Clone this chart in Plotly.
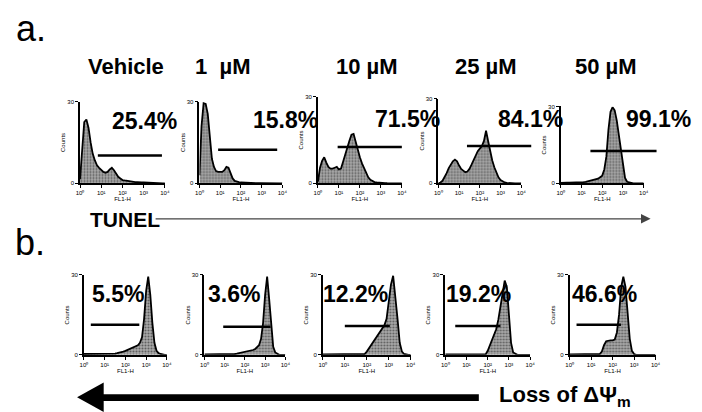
import plotly.graph_objects as go

W, H = 702, 412

# ---------------- data ----------------
DECADES = [0.0, 0.1, 0.2, 0.3, 0.4, 0.5, 0.6, 0.7, 0.8, 0.9,
           1.0, 1.1, 1.2, 1.3, 1.4, 1.5, 1.6, 1.7, 1.8, 1.9,
           2.0, 2.1, 2.2, 2.3, 2.4, 2.5, 2.6, 2.7, 2.8, 2.9,
           3.0, 3.1, 3.2, 3.3, 3.4, 3.5, 3.6, 3.7, 3.8, 3.9,
           4.0]
XTICK_VALS = [0, 1, 2, 3, 4]
XTICK_TEXT = ["10⁰", "10¹", "10²", "10³", "10⁴"]

CONDITIONS = ["Vehicle", "1  µM", "10 µM", "25 µM", "50 µM"]
PCT_TUNEL = ["25.4%", "15.8%", "71.5%", "84.1%", "99.1%"]
PCT_MMP = ["5.5%", "3.6%", "12.2%", "19.2%", "46.6%"]

# relative event counts (fraction of axis height) on the decade grid
TUNEL_VEHICLE = [0.05, 0.45, 0.75, 0.78, 0.68, 0.5, 0.36, 0.28, 0.22, 0.19,
                 0.16, 0.14, 0.13, 0.14, 0.17, 0.19, 0.16, 0.12, 0.08, 0.06,
                 0.04, 0.035, 0.03, 0.025, 0.02, 0.02, 0.015, 0.015, 0.01, 0.01,
                 0.01, 0.008, 0.006, 0.005, 0.004, 0.003, 0.002, 0.001, 0, 0,
                 0]
TUNEL_1UM = [0.1, 0.7, 0.98, 0.97, 0.85, 0.55, 0.3, 0.2, 0.15, 0.14,
             0.14, 0.14, 0.16, 0.2, 0.19, 0.12, 0.06, 0.03, 0.02, 0.015,
             0.01, 0.008, 0.006, 0.005, 0.004, 0.003, 0.002, 0.002, 0.001, 0.001,
             0, 0, 0, 0, 0, 0, 0, 0, 0, 0,
             0]
TUNEL_10UM = [0.02, 0.18, 0.26, 0.3, 0.24, 0.19, 0.17, 0.17, 0.18, 0.19,
              0.16, 0.17, 0.25, 0.34, 0.43, 0.49, 0.56, 0.57, 0.48, 0.38,
              0.3, 0.23, 0.17, 0.12, 0.07, 0.04, 0.025, 0.015, 0.01, 0.006,
              0.004, 0.003, 0.002, 0.001, 0, 0, 0, 0, 0, 0,
              0]
TUNEL_25UM = [0, 0.01, 0.03, 0.07, 0.12, 0.18, 0.22, 0.26, 0.28, 0.26,
              0.21, 0.17, 0.15, 0.13, 0.14, 0.17, 0.22, 0.28, 0.33, 0.38,
              0.41, 0.44, 0.5, 0.62, 0.5, 0.38, 0.27, 0.19, 0.12, 0.07,
              0.04, 0.02, 0.01, 0.005, 0.002, 0, 0, 0, 0, 0,
              0]
TUNEL_50UM = [0.005, 0.01, 0.01, 0.01, 0.01, 0.01, 0.01, 0.01, 0.01, 0.01,
              0.015, 0.015, 0.02, 0.025, 0.03, 0.035, 0.04, 0.05, 0.06, 0.08,
              0.1, 0.18, 0.35, 0.7, 0.93, 0.99, 0.95, 0.82, 0.62, 0.42,
              0.2, 0.07, 0.02, 0.01, 0.005, 0, 0, 0, 0, 0,
              0]

MMP_VEHICLE = [0.01, 0.01, 0.01, 0.01, 0.01, 0.01, 0.01, 0.01, 0.01, 0.01,
               0.01, 0.01, 0.01, 0.01, 0.01, 0.015, 0.02, 0.025, 0.03, 0.04,
               0.05, 0.06, 0.07, 0.08, 0.09, 0.1, 0.12, 0.15, 0.22, 0.45,
               0.8, 0.98, 0.75, 0.4, 0.15, 0.05, 0.02, 0.01, 0, 0,
               0]
MMP_1UM = [0.005, 0.005, 0.005, 0.005, 0.005, 0.005, 0.005, 0.005, 0.005, 0.005,
           0.005, 0.01, 0.01, 0.01, 0.01, 0.01, 0.015, 0.02, 0.025, 0.03,
           0.035, 0.04, 0.045, 0.05, 0.06, 0.07, 0.09, 0.12, 0.2, 0.4,
           0.75, 0.98, 0.7, 0.35, 0.1, 0.03, 0.01, 0, 0, 0,
           0]
MMP_10UM = [0.005, 0.005, 0.005, 0.005, 0.005, 0.005, 0.005, 0.005, 0.005, 0.005,
            0.005, 0.005, 0.005, 0.005, 0.005, 0.005, 0.005, 0.005, 0.005, 0.01,
            0.04, 0.08, 0.12, 0.16, 0.2, 0.24, 0.28, 0.32, 0.37, 0.45,
            0.65, 0.88, 0.99, 0.75, 0.45, 0.15, 0.04, 0.01, 0, 0,
            0]
MMP_25UM = [0.005, 0.005, 0.005, 0.005, 0.005, 0.005, 0.005, 0.005, 0.005, 0.005,
            0.005, 0.005, 0.005, 0.005, 0.005, 0.005, 0.005, 0.005, 0.005, 0.005,
            0.05, 0.12, 0.18, 0.24, 0.32, 0.44, 0.6, 0.75, 0.93, 0.85,
            0.52, 0.15, 0.03, 0.01, 0, 0, 0, 0, 0, 0,
            0]
MMP_50UM = [0.005, 0.005, 0.005, 0.005, 0.005, 0.005, 0.005, 0.005, 0.005, 0.005,
            0.005, 0.005, 0.005, 0.005, 0.01, 0.04, 0.12, 0.17, 0.18, 0.18,
            0.18, 0.19, 0.28, 0.5, 0.85, 0.98, 0.85, 0.55, 0.2, 0.05,
            0.01, 0, 0, 0, 0, 0, 0, 0, 0, 0,
            0]

# gate markers: start decade, end decade, level
TUNEL_GATE_START = [0.84, 0.9, 0.94, 1.38, 1.43]
TUNEL_GATE_END = [3.86, 3.75, 4.0, 4.48, 4.62]
TUNEL_GATE_LEVEL = [0.34, 0.41, 0.42, 0.44, 0.42]
MMP_GATE_START = [0.33, 0.93, 1.0, 0.47, 0.32]
MMP_GATE_END = [2.67, 3.27, 3.05, 2.6, 2.39]
MMP_GATE_LEVEL = [0.375, 0.35, 0.36, 0.36, 0.375]

TUNEL_SERIES = [TUNEL_VEHICLE, TUNEL_1UM, TUNEL_10UM, TUNEL_25UM, TUNEL_50UM]
MMP_SERIES = [MMP_VEHICLE, MMP_1UM, MMP_10UM, MMP_25UM, MMP_50UM]

# ---------------- layout (pixels) ----------------
TOP_X = [(77, 163), (198, 282), (318, 403), (440, 524), (564, 648)]
TOP_Y = [(100, 183), (100, 183), (95, 183), (97, 183), (105, 183)]
BOT_X = [(81, 165), (203, 285), (323, 412), (447, 533), (573, 660)]
BOT_Y = [(276, 357)] * 5
TITLE_X = [124, 221, 368, 488, 610]
TITLE_Y = 64
PCT_TOP_POS = [(142, 120), (285, 119), (409, 118), (533, 118), (663, 118)]
PCT_BOT_POS = [(115, 295), (233, 295), (356, 295), (481, 295), (608, 295)]
XRANGE = [0, 4]
YRANGE = [0, 1]

SANS = "Liberation Sans, Arial, sans-serif"


def fx(p):
    return p / W


def fy(p):
    return 1 - p / H


fig = go.Figure()
layout = dict(width=W, height=H, margin=dict(l=0, r=0, t=0, b=0),
              paper_bgcolor="white", plot_bgcolor="white", showlegend=False)
shapes = []
annotations = []

panels = []
for i in range(5):
    panels.append((TUNEL_SERIES[i], TOP_X[i], TOP_Y[i],
                   TUNEL_GATE_START[i], TUNEL_GATE_END[i], TUNEL_GATE_LEVEL[i],
                   PCT_TUNEL[i], PCT_TOP_POS[i]))
for i in range(5):
    panels.append((MMP_SERIES[i], BOT_X[i], BOT_Y[i],
                   MMP_GATE_START[i], MMP_GATE_END[i], MMP_GATE_LEVEL[i],
                   PCT_MMP[i], PCT_BOT_POS[i]))

for k, (vals, (x0, x1), (y0, y1), g0, g1, gl, pct, (tx, ty)) in enumerate(panels):
    n = k + 1
    xa = "x" if n == 1 else f"x{n}"
    ya = "y" if n == 1 else f"y{n}"
    fig.add_trace(go.Scatter(
        x=DECADES, y=vals, mode="lines", xaxis=xa, yaxis=ya,
        line=dict(color="black", width=1.8),
        fill="tozeroy", fillcolor="#8c8c8c",
        fillpattern=dict(shape=".", fgcolor="#111111", bgcolor="#ababab",
                         size=3, solidity=0.4),
        hoverinfo="skip"))
    axis_common = dict(showline=True, linecolor="black", linewidth=1.6,
                       ticks="outside", ticklen=3, tickwidth=1.2, tickcolor="black",
                       showgrid=False, zeroline=False,
                       tickfont=dict(size=6, color="black", family=SANS))
    layout["xaxis" if n == 1 else f"xaxis{n}"] = dict(
        domain=[fx(x0), fx(x1)], range=XRANGE, anchor=ya,
        tickvals=XTICK_VALS, ticktext=XTICK_TEXT,
        title=dict(text="FL1-H", font=dict(size=6, color="black", family=SANS), standoff=1),
        **axis_common)
    layout["yaxis" if n == 1 else f"yaxis{n}"] = dict(
        domain=[fy(y1), fy(y0)], range=YRANGE, anchor=xa,
        tickvals=[0, 1], ticktext=["0", "30"],
        title=dict(text="Counts", font=dict(size=6, color="black", family=SANS), standoff=1),
        **axis_common)
    span = XRANGE[1] - XRANGE[0]
    shapes.append(dict(type="line", xref=f"{xa} domain", yref=f"{ya} domain",
                       x0=(g0 - XRANGE[0]) / span, x1=(g1 - XRANGE[0]) / span,
                       y0=gl, y1=gl, line=dict(color="black", width=2.5)))
    annotations.append(dict(text=pct, xref="paper", yref="paper",
                            x=fx(tx), y=fy(ty), xanchor="center", yanchor="middle",
                            showarrow=False,
                            font=dict(size=23, color="black", family=SANS, weight="bold")))

# column titles
for name, cx in zip(CONDITIONS, TITLE_X):
    annotations.append(dict(text=name, xref="paper", yref="paper",
                            x=fx(cx), y=fy(TITLE_Y), xanchor="center", yanchor="middle",
                            showarrow=False,
                            font=dict(size=22, color="black", family=SANS, weight="bold")))

# panel letters
annotations.append(dict(text="a.", xref="paper", yref="paper", x=fx(10), y=fy(26),
                        xanchor="left", yanchor="middle", showarrow=False,
                        font=dict(size=36, color="black", family=SANS)))
annotations.append(dict(text="b.", xref="paper", yref="paper", x=fx(9), y=fy(243),
                        xanchor="left", yanchor="middle", showarrow=False,
                        font=dict(size=36, color="black", family=SANS)))

# TUNEL arrow
annotations.append(dict(text="TUNEL", xref="paper", yref="paper", x=fx(85), y=fy(220),
                        xanchor="left", yanchor="middle", showarrow=False,
                        font=dict(size=21, color="black", family=SANS, weight="bold")))
annotations.append(dict(text=" ", xref="paper", yref="paper", axref="pixel", ayref="pixel",
                        x=fx(655), y=fy(219), ax=-(655 - 157), ay=0,
                        showarrow=True, arrowhead=2, arrowsize=1.6, arrowwidth=1.2,
                        arrowcolor="#444"))

# loss of membrane potential arrow
shapes.append(dict(type="rect", xref="paper", yref="paper",
                   x0=fx(98), x1=fx(481), y0=fy(404), y1=fy(397),
                   line=dict(width=0), fillcolor="black"))
shapes.append(dict(type="path", xref="paper", yref="paper",
                   path=f"M {fx(74)},{fy(400)} L {fx(101)},{fy(385)} L {fx(101)},{fy(415)} Z",
                   line=dict(width=0), fillcolor="black"))
annotations.append(dict(text="Loss of ΔΨ<sub>m</sub>", xref="paper", yref="paper",
                        x=fx(499), y=fy(399), xanchor="left", yanchor="middle",
                        showarrow=False,
                        font=dict(size=22, color="black", family=SANS, weight="bold")))

layout["shapes"] = shapes
layout["annotations"] = annotations
fig.update_layout(**layout)
fig.write_html("out.html")
